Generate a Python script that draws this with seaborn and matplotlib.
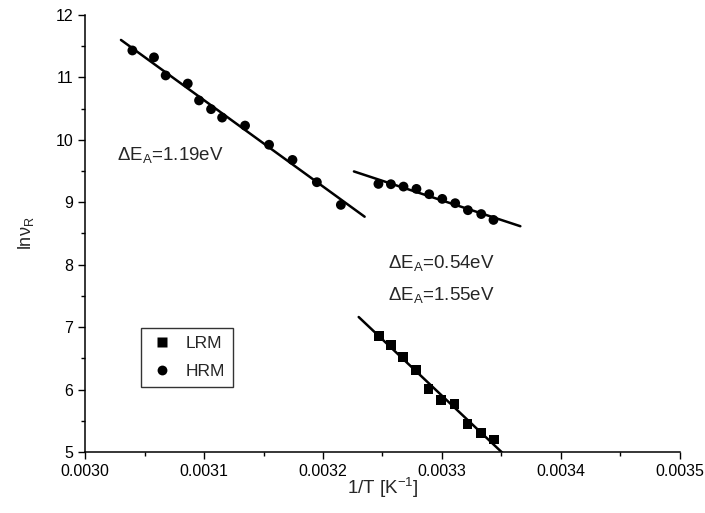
import numpy as np
import pandas as pd
import matplotlib
matplotlib.use('Agg')
import matplotlib.pyplot as plt
from matplotlib.ticker import MultipleLocator, FormatStrFormatter
import seaborn as sns

# Arrhenius data: 1/T [1/K] vs ln(nu_R)
hrm_x = [0.0030396, 0.0030578, 0.0030676, 0.0030862, 0.0030957, 0.0031058,
         0.0031151, 0.0031344, 0.0031546, 0.0031743, 0.0031948, 0.0032150]
hrm_y = [11.43, 11.32, 11.03, 10.90, 10.63, 10.49,
         10.355, 10.227, 9.92, 9.677, 9.32, 8.957]

hrm2_x = [0.0032466, 0.0032571, 0.0032677, 0.0032786, 0.0032893,
          0.0033003, 0.0033112, 0.0033219, 0.0033331, 0.0033434]
hrm2_y = [9.293, 9.288, 9.25, 9.213, 9.128, 9.053, 8.984, 8.872, 8.81, 8.716]

lrm_x = [0.0032468, 0.0032571, 0.0032674, 0.0032784, 0.0032887,
         0.0032994, 0.0033106, 0.0033215, 0.0033330, 0.0033440]
lrm_y = [6.858, 6.714, 6.522, 6.318, 6.005, 5.833, 5.764, 5.45, 5.31, 5.20]

# activation energies (eV) and the 1/T span of each fit line
k_B = 8.617e-5
e_act = [1.19, 0.54, 1.55]
fit_spans = [(0.00303, 0.003235), (0.003226, 0.003366), (0.00323, 0.003352)]

sns.set_style('ticks')
plt.rcParams['font.family'] = ['Liberation Sans', 'DejaVu Sans']
plt.rcParams['mathtext.fontset'] = 'custom'
plt.rcParams['mathtext.rm'] = 'Liberation Sans'
plt.rcParams['mathtext.it'] = 'Liberation Sans'

fig = plt.figure(figsize=(7.05, 5.13), dpi=100)
ax = fig.add_axes([0.121, 0.119, 0.843, 0.852])

pts = pd.concat([
    pd.DataFrame({'x': lrm_x, 'y': lrm_y, 'grp': 'LRM'}),
    pd.DataFrame({'x': hrm_x + hrm2_x, 'y': hrm_y + hrm2_y, 'grp': 'HRM'}),
])
sns.scatterplot(data=pts, x='x', y='y', hue='grp', style='grp',
                markers={'LRM': 's', 'HRM': 'o'},
                palette={'LRM': 'black', 'HRM': 'black'},
                s=50, edgecolor='none', ax=ax, zorder=3)

# straight Arrhenius fits with slope -E_A/k_B through the data mean
for (xs, ys), ea, span in zip([(hrm_x, hrm_y), (hrm2_x, hrm2_y), (lrm_x, lrm_y)],
                              e_act, fit_spans):
    slope = -ea / k_B
    icpt = np.mean(ys) - slope * np.mean(xs)
    lx = np.array(span)
    sns.lineplot(x=lx, y=slope * lx + icpt, color='black', lw=1.8, ax=ax)

ax.text(0.0030269, 9.76, r'$\Delta$E$_\mathrm{A}$=1.19eV', fontsize=13.5, va='center')
ax.text(0.0032548, 8.03, r'$\Delta$E$_\mathrm{A}$=0.54eV', fontsize=13.5, va='center')
ax.text(0.0032548, 7.515, r'$\Delta$E$_\mathrm{A}$=1.55eV', fontsize=13.5, va='center')

ax.set_xlim(0.0030, 0.0035)
ax.set_ylim(5, 12)
ax.xaxis.set_major_locator(MultipleLocator(0.0001))
ax.xaxis.set_minor_locator(MultipleLocator(0.00005))
ax.xaxis.set_major_formatter(FormatStrFormatter('%.4f'))
ax.yaxis.set_major_locator(MultipleLocator(1))
ax.yaxis.set_minor_locator(MultipleLocator(0.5))
ax.tick_params(which='major', direction='out', length=5, width=1, labelsize=11.5,
               color='black', labelcolor='black')
ax.tick_params(which='minor', direction='out', length=3, width=1, color='black')
for s in ['left', 'bottom']:
    ax.spines[s].set_color('black')
    ax.spines[s].set_linewidth(1.1)
sns.despine(ax=ax)

ax.set_xlabel(r'1/T [K$^{\mathrm{-1}}$]', fontsize=13.5, labelpad=-2)
ax.set_ylabel(r'ln$\nu_\mathrm{R}$', fontsize=13, labelpad=14)

handles, labels = ax.get_legend_handles_labels()
leg = ax.legend(handles, labels, loc='lower left', bbox_to_anchor=(0.094, 0.149),
                frameon=True, fancybox=False, edgecolor='black', fontsize=12.5,
                borderpad=0.45, handletextpad=0.6, labelspacing=0.75,
                borderaxespad=0, handlelength=1.5)
leg.get_frame().set_linewidth(1.0)

fig.savefig('out.png', dpi=100)
